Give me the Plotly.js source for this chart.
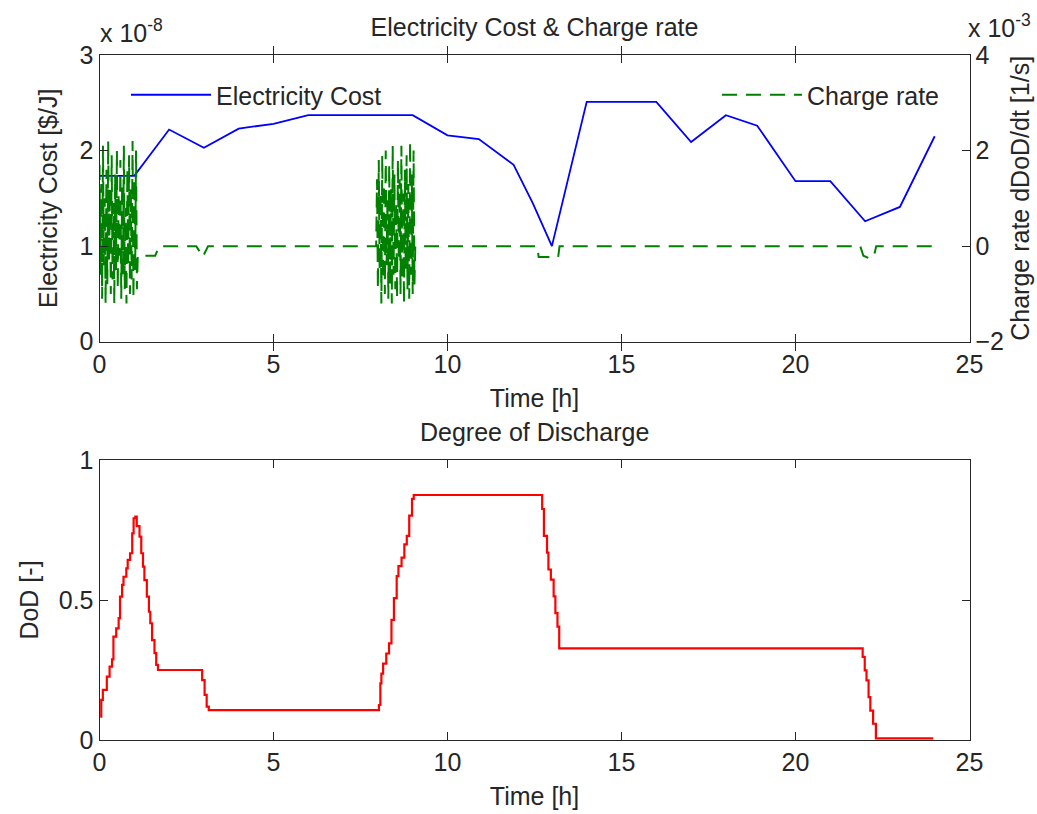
<!DOCTYPE html>
<html>
<head>
<meta charset="utf-8">
<script src="https://cdn.plot.ly/plotly-3.0.1.min.js"></script>
<style>html,body{margin:0;padding:0;background:#fff;}#chart{width:1037px;height:814px;}</style>
</head>
<body>
<div id="chart"></div>
<script>
// ---- Electricity cost (values in units of 1e-8 $/J) ----
const costTime = [0, 1, 2, 3, 4, 5, 6, 9, 10, 10.9, 11.9, 12.45, 13, 14, 16, 17, 18, 18.9, 20, 21, 22, 23, 24];
const costE8   = [1.735, 1.735, 2.22, 2.03, 2.23, 2.28, 2.37, 2.37, 2.16, 2.12, 1.85, 1.45, 1.0, 2.51, 2.51, 2.09, 2.37, 2.26, 1.68, 1.68, 1.26, 1.41, 2.15];

// ---- Charge rate dDoD/dt (values in units of 1e-3 1/s) ----
const rateTime = [
  0,0.025,0.05,0.075,0.1,0.125,0.15,0.175,0.2,0.225,0.25,0.275,0.3,0.325,0.35,0.375,0.4,0.425,0.45,0.475,0.5,0.525,
  0.55,0.575,0.6,0.625,0.65,0.675,0.7,0.725,0.75,0.775,0.8,0.825,0.85,0.875,0.9,0.925,0.95,0.975,1.0,1.025,1.05,1.075,
  1.1, 1.6, 1.72, 2.78, 2.97, 3.12, 7.95,
  7.975,8.0,8.025,8.05,8.075,8.1,8.125,8.15,8.175,8.2,8.225,8.25,8.275,8.3,8.325,8.35,8.375,8.4,8.425,8.45,8.475,8.5,
  8.525,8.55,8.575,8.6,8.625,8.65,8.675,8.7,8.725,8.75,8.775,8.8,8.825,8.85,8.875,8.9,8.925,8.95,8.975,9.0,9.025,9.05,
  9.075, 12.58, 12.62, 13.18, 13.22, 21.86, 21.95, 22.1, 22.25, 22.32, 24
];
const rateE3 = [
  1.7,-0.6,1.3,-1.1,2.1,-0.4,1.0,-1.2,1.6,-0.8,2.2,-0.3,1.2,-1.0,1.9,-0.7,0.9,-1.2,1.5,-0.5,2.0,-0.9,
  1.1,-0.2,1.8,-1.1,1.3,-0.6,2.1,-0.9,0.8,-1.2,1.6,-0.4,1.9,-1.0,1.2,-0.7,2.2,-1.1,1.4,-0.5,2.0,-0.9,
  -0.2, -0.2, 0, 0, -0.22, 0, 0,
  1.4,-0.9,1.8,-0.5,1.1,-1.2,1.9,-0.7,1.3,-1.0,2.0,-0.4,1.0,-1.1,1.7,-0.8,1.2,-1.2,2.1,-0.6,1.5,-0.9,
  0.9,-1.1,1.8,-0.3,1.4,-1.0,2.1,-0.7,1.1,-1.2,1.6,-0.5,1.9,-0.9,1.3,-1.1,2.2,-0.6,1.5,-1.0,2.0,-0.8,
  0, 0, -0.23, -0.23, 0, 0, -0.2, -0.25, -0.22, 0, 0
];

// ---- Degree of Discharge ----
const dodTime = [0.02,0.05,0.096,0.21,0.29,0.36,0.40,0.48,0.55,0.59,0.65,0.69,0.77,0.81,0.88,0.94,0.98,1.03,1.07,1.15,1.20,1.25,1.29,1.36,1.42,1.46,1.51,1.58,1.63,1.68,
  2.87,2.95,3.02,3.08,3.14,7.97,8.03,8.07,8.10,8.15,8.24,8.32,8.39,8.46,8.54,8.59,8.68,8.76,8.83,8.90,8.98,9.03,
  12.64,12.72,12.77,12.86,12.90,12.97,13.05,13.10,13.16,13.21,21.88,21.93,21.99,22.04,22.10,22.15,22.23,22.31,23.96];
const dod = [0.083,0.143,0.179,0.226,0.262,0.288,0.369,0.399,0.435,0.512,0.554,0.583,0.613,0.643,0.667,0.738,0.792,0.798,0.764,0.726,0.667,0.619,0.571,0.512,0.458,0.417,0.357,0.310,0.268,0.25,
  0.25,0.214,0.161,0.119,0.107,0.107,0.125,0.202,0.237,0.273,0.309,0.345,0.429,0.507,0.585,0.621,0.651,0.699,0.729,0.801,0.861,0.875,
  0.875,0.825,0.729,0.669,0.609,0.573,0.513,0.453,0.405,0.327,0.327,0.297,0.249,0.213,0.153,0.105,0.058,0.006,0.006];

const xTicks = [0, 5, 10, 15, 20, 25];
const costTicks = [0, 1, 2, 3];
const rateTicks = [-2, 0, 2, 4];
const dodTicks = [0, 0.5, 1];

const FONT = 'Liberation Sans, Arial, sans-serif';
const TXT = '#262626';
const FS = 25;

const traces = [
  {x: costTime, y: costE8, type: 'scatter', mode: 'lines', name: 'Electricity Cost',
   line: {color: '#0000ff', width: 1.8}, xaxis: 'x', yaxis: 'y', legend: 'legend'},
  {x: rateTime, y: rateE3, type: 'scatter', mode: 'lines', name: 'Charge rate',
   line: {color: '#008000', width: 2, dash: '15px,9px'}, xaxis: 'x', yaxis: 'y2', legend: 'legend2'},
  {x: dodTime, y: dod, type: 'scatter', mode: 'lines', name: 'DoD', showlegend: false,
   line: {color: '#ff0000', width: 2.2, shape: 'hv'}, xaxis: 'x2', yaxis: 'y3'}
];

const axBase = {
  showline: true, linecolor: TXT, linewidth: 1, ticks: 'inside', ticklen: 8, tickcolor: TXT,
  showgrid: false, zeroline: false, tickfont: {family: FONT, size: FS, color: TXT}
};
const xd = [99.5/1037, 969.5/1037];

const layout = {
  width: 1037, height: 814,
  margin: {l: 0, r: 0, t: 0, b: 0},
  paper_bgcolor: '#fff', plot_bgcolor: '#fff',
  font: {family: FONT, size: FS, color: TXT},
  title: {text: 'Electricity Cost &amp; Charge rate', x: 534.5/1037, xanchor: 'center',
          y: 1 - 27/814, yanchor: 'middle', font: {family: FONT, size: FS, color: TXT}},
  xaxis: Object.assign({}, axBase, {domain: xd, anchor: 'y', range: [0, 25], tickvals: xTicks, mirror: 'allticks',
    title: {text: 'Time [h]', standoff: 12, font: {family: FONT, size: FS, color: TXT}}}),
  yaxis: Object.assign({}, axBase, {domain: [1 - 341.7/814, 1 - 55/814], anchor: 'x', range: [0, 3], tickvals: costTicks, mirror: true,
    title: {text: 'Electricity Cost [$/J]', standoff: 14, font: {family: FONT, size: FS, color: TXT}}}),
  yaxis2: Object.assign({}, axBase, {overlaying: 'y', side: 'right', anchor: 'x', range: [-2, 4], tickvals: rateTicks,
    title: {text: 'Charge rate dDoD/dt [1/s]', standoff: 8, font: {family: FONT, size: FS, color: TXT}}}),
  xaxis2: Object.assign({}, axBase, {domain: xd, anchor: 'y3', range: [0, 25], tickvals: xTicks, mirror: 'allticks',
    title: {text: 'Time [h]', standoff: 12, font: {family: FONT, size: FS, color: TXT}}}),
  yaxis3: Object.assign({}, axBase, {domain: [1 - 740/814, 1 - 460/814], anchor: 'x2', range: [0, 1], tickvals: dodTicks, mirror: 'allticks',
    title: {text: 'DoD [-]', standoff: 12, font: {family: FONT, size: FS, color: TXT}}}),
  legend: {x: 126/1037, y: 1 - 95/814, xanchor: 'left', yanchor: 'middle', bgcolor: 'rgba(0,0,0,0)', itemwidth: 80,
           font: {family: FONT, size: FS, color: TXT}},
  legend2: {x: 945/1037, y: 1 - 95/814, xanchor: 'right', yanchor: 'middle', bgcolor: 'rgba(0,0,0,0)', itemwidth: 80,
           font: {family: FONT, size: FS, color: TXT}},
  annotations: [
    {text: 'x 10<sup>-8</sup>', xref: 'paper', yref: 'paper', x: 98/1037, y: 1 - 31/814, xanchor: 'left', yanchor: 'middle',
     showarrow: false, font: {family: FONT, size: FS, color: TXT}},
    {text: 'x 10<sup>-3</sup>', xref: 'paper', yref: 'paper', x: 966/1037, y: 1 - 26/814, xanchor: 'left', yanchor: 'middle',
     showarrow: false, font: {family: FONT, size: FS, color: TXT}},
    {text: 'Degree of Discharge', xref: 'paper', yref: 'paper', x: 534.5/1037, y: 1 - 432/814, xanchor: 'center', yanchor: 'middle',
     showarrow: false, font: {family: FONT, size: FS, color: TXT}}
  ]
};

Plotly.newPlot('chart', traces, layout, {displayModeBar: false, staticPlot: true});
</script>
</body>
</html>
